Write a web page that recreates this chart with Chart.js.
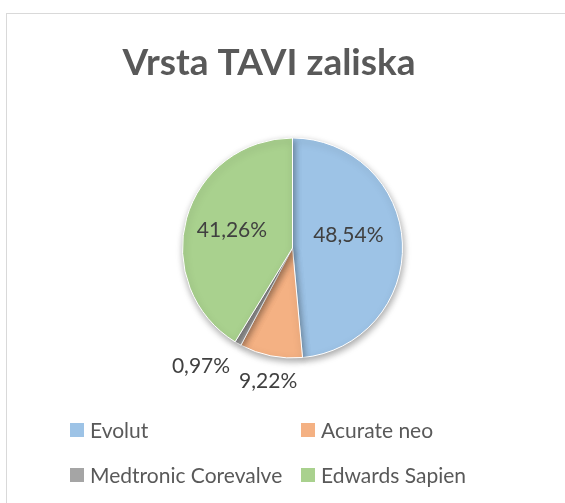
<!DOCTYPE html>
<html>
<head>
<meta charset="utf-8">
<script src="https://cdn.jsdelivr.net/npm/chart.js@4/dist/chart.umd.min.js"></script>
<style>
  html, body { margin: 0; padding: 0; background: #ffffff; }
  #wrap { position: relative; width: 565px; height: 503px; overflow: hidden; }
  #frame { position: absolute; left: 6px; top: 13px; width: 600px; height: 600px;
           border-left: 1px solid #d9d9d9; border-top: 1px solid #d9d9d9; box-sizing: border-box; }
  canvas { position: absolute; left: 0; top: 0; }
</style>
</head>
<body>
<div id="wrap">
  <div id="frame"></div>
  <canvas id="c" width="565" height="503"></canvas>
</div>
<script>
const chartTitle = "Vrsta TAVI zaliska";
const categories = ["Evolut", "Acurate neo", "Medtronic Corevalve", "Edwards Sapien"];
const values = [48.54, 9.22, 0.97, 41.26];
const valueLabels = ["48,54%", "9,22%", "0,97%", "41,26%"];
const colors = ["#9DC3E6", "#F4B183", "#A5A5A5", "#A9D18E"];

// label placement styling: [radius factor, angle shift in degrees]
const labelPlace = [[0.52, -10], [1.23, -1], [1.36, 8], [0.575, 1]];

const FONT = "Lato, 'Open Sans', 'DejaVu Sans', sans-serif";

const overlay = {
  id: 'overlay',
  beforeDatasetsDraw(chart) {
    const ctx = chart.ctx;
    ctx.save();
    ctx.shadowColor = 'rgba(0,0,0,0.35)';
    ctx.shadowBlur = 7;
    ctx.shadowOffsetX = 1;
    ctx.shadowOffsetY = 3;
  },
  afterDatasetsDraw(chart) {
    chart.ctx.restore();
  },
  afterDraw(chart) {
    const ctx = chart.ctx;
    ctx.save();
    // title
    ctx.fillStyle = '#595959';
    ctx.font = "bold 37px " + FONT;
    ctx.textAlign = 'center';
    ctx.textBaseline = 'alphabetic';
    ctx.fillText(chartTitle, 269, 75);

    // data labels
    const arcs = chart.getDatasetMeta(0).data;
    ctx.font = "21px " + FONT;
    ctx.fillStyle = '#404040';
    ctx.textBaseline = 'middle';
    arcs.forEach((a, i) => {
      const mid = (a.startAngle + a.endAngle) / 2 + labelPlace[i][1] * Math.PI / 180;
      const r = a.outerRadius * labelPlace[i][0];
      ctx.fillText(valueLabels[i], a.x + Math.cos(mid) * r, a.y + Math.sin(mid) * r);
    });

    // legend (2 columns)
    ctx.font = "21px " + FONT;
    ctx.textAlign = 'left';
    const colX = [70, 301], rowY = [430, 475];
    categories.forEach((name, i) => {
      const x = colX[i % 2], y = rowY[Math.floor(i / 2)];
      ctx.fillStyle = colors[i];
      ctx.fillRect(x, y - 7, 14, 14);
      ctx.fillStyle = '#595959';
      ctx.fillText(name, x + 20, y + 1);
    });
    ctx.restore();
  }
};

new Chart(document.getElementById('c'), {
  type: 'pie',
  data: {
    labels: categories,
    datasets: [{
      data: values,
      backgroundColor: colors,
      borderColor: '#ffffff',
      borderWidth: 1
    }]
  },
  options: {
    responsive: false,
    animation: false,
    layout: { padding: { left: 182, right: 162, top: 137, bottom: 144 } },
    plugins: {
      legend: { display: false },
      title: { display: false },
      tooltip: { enabled: false }
    }
  },
  plugins: [overlay]
});
</script>
</body>
</html>
